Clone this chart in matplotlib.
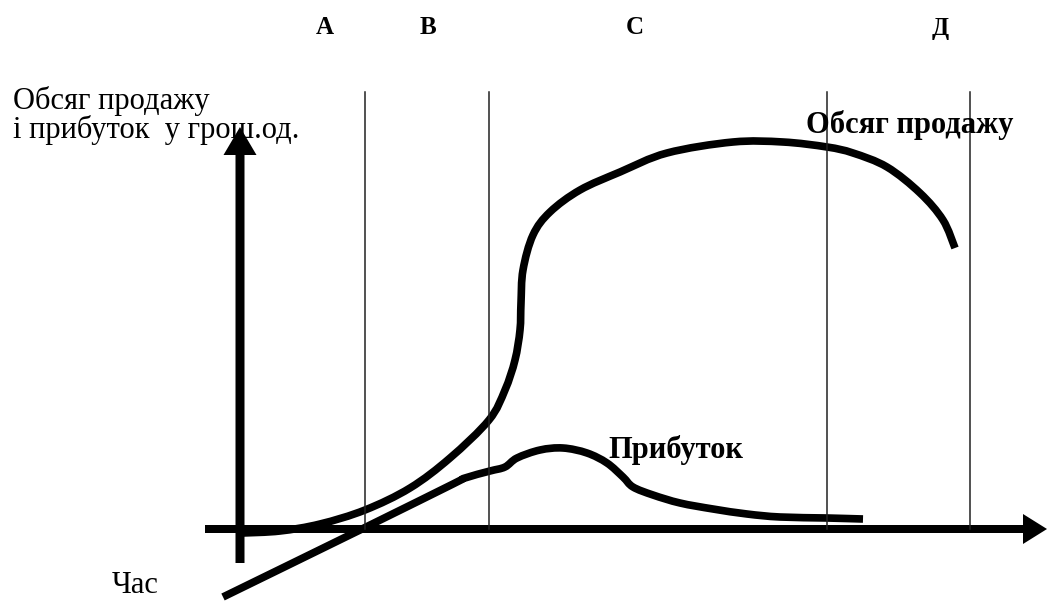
import matplotlib
matplotlib.use("Agg")
from matplotlib import pyplot as plt
from matplotlib.path import Path
from matplotlib.patches import PathPatch
import numpy as np

# product life cycle: time (t) vs value (v), origin at axes crossing
sales_t = [3, 40, 80, 125, 170, 210, 249, 265, 275, 280, 281, 283, 293, 310, 340, 380,
           427, 493, 543, 587, 613, 647, 680, 703, 715]
sales_v = [-4, -2, 5, 19, 41, 71, 109, 139, 169, 199, 226, 259, 294, 317, 339, 357,
           376, 387, 387, 382, 376, 362, 336, 309, 281]

profit_t = [-17, 120, 213, 225, 250, 265, 277, 300, 323, 347, 367, 383, 393, 413, 440,
            473, 507, 540, 587, 623]
profit_v = [-68, -1, 45, 51, 58, 62, 71, 79, 81, 76, 66, 52, 42, 34, 26,
            20, 15, 12, 11, 10]

stage_bounds = [125, 249, 587, 730]
stage_labels = ["A", "B", "C", "Д"]
stage_label_t = [85, 188, 395, 700]


def smooth_path(xs, ys):
    # cubic bezier pieces through the read points (catmull-rom tangents)
    p = np.column_stack([xs, ys]).astype(float)
    verts = [p[0]]
    codes = [Path.MOVETO]
    n = len(p)
    for i in range(n - 1):
        p0 = p[max(i - 1, 0)]
        p1 = p[i]
        p2 = p[i + 1]
        p3 = p[min(i + 2, n - 1)]
        verts += [p1 + (p2 - p0) / 6, p2 - (p3 - p1) / 6, p2]
        codes += [Path.CURVE4] * 3
    return Path(verts, codes)


plt.rcParams['font.family'] = ['Liberation Serif', 'DejaVu Serif']

fig = plt.figure(figsize=(10.47, 6.01), dpi=100)
ax = fig.add_axes([0, 0, 1, 1])
ax.set_xlim(-240, 807)
ax.set_ylim(-72, 529)
ax.axis('off')

# stage boundaries
for t in stage_bounds:
    ax.plot([t, t], [0, 437], color='#222222', lw=1.1)

# axes with arrows
ax.arrow(0, -34, 0, 436, width=9, head_width=33, head_length=28,
         length_includes_head=True, color='black', lw=0)
ax.arrow(-35, 0, 842, 0, width=8, head_width=30, head_length=24,
         length_includes_head=True, color='black', lw=0)

# curves
for xs, ys in [(sales_t, sales_v), (profit_t, profit_v)]:
    ax.add_patch(PathPatch(smooth_path(xs, ys), facecolor='none', edgecolor='black',
                           lw=5.5, capstyle='butt', joinstyle='round'))

# labels
for lab, t in zip(stage_labels, stage_label_t):
    ax.text(t, 501, lab, ha='center', va='center', fontsize=18, fontweight='bold')

ax.text(-227, 443, "Обсяг продажу\nі прибуток  у грош.од.", ha='left', va='top',
        fontsize=22, linespacing=0.95)
ax.text(566, 396, "Обсяг продажу", ha='left', va='baseline', fontsize=22, fontweight='bold')
ax.text(368, 71, "Прибуток", ha='left', va='baseline', fontsize=22, fontweight='bold')
ax.text(-128, -64, "Час", ha='left', va='baseline', fontsize=22)

fig.savefig("out.png", dpi=100)
